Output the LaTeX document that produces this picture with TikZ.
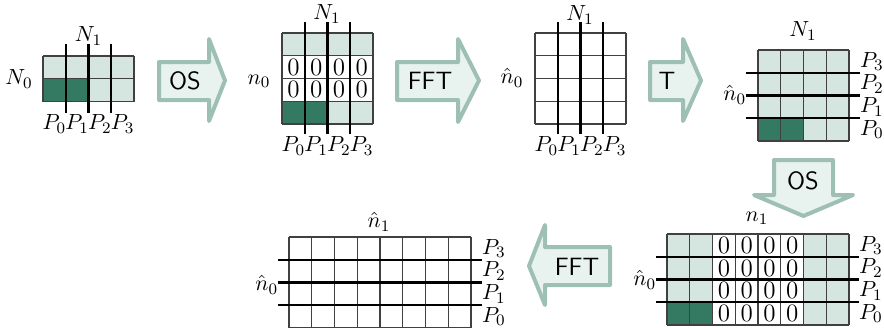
\documentclass[tikz,border=0pt]{standalone}
\definecolor{celllight}{RGB}{213,229,223}
\definecolor{celldark}{RGB}{52,121,98}
\definecolor{arrowfill}{RGB}{232,242,238}
\definecolor{arrowborder}{RGB}{158,192,180}
\newcommand\cellw{22.75}
\newcommand\mygrid[4]{%
  \foreach \i in {0,...,#3} \draw[gridline] ({#1+\i*\cellw},#2) -- ({#1+\i*\cellw},{#2+#4*\cellw});
  \foreach \j in {0,...,#4} \draw[gridline] (#1,{#2+\j*\cellw}) -- ({#1+#3*\cellw},{#2+\j*\cellw});
}
\tikzset{
  gridline/.style={draw=black!75, line width=0.6pt},
  thickline/.style={draw=black, line width=1.1pt},
  blockarrow/.style={draw=arrowborder, fill=arrowfill, line width=2pt, line join=round},
  optext/.style={font=\sffamily\fontsize{12.5}{14}\selectfont, inner sep=0pt},
  zero/.style={font=\fontsize{12.5}{14}\selectfont, inner sep=0pt},
  lbl/.style={inner sep=0.3pt, font=\fontsize{11}{13}\selectfont},
}
\begin{document}
\begin{tikzpicture}[x=0.5pt,y=-0.5pt]
\useasboundingbox (0,0) rectangle (884,327);

% ---------- Grid 1 ----------
\fill[celllight] (43,56) rectangle ({43+4*\cellw},{56+2*\cellw});
\fill[celldark] (43,{56+\cellw}) rectangle ({43+2*\cellw},{56+2*\cellw});
\mygrid{43}{56}{4}{2}
\foreach \k in {1,2,3} \draw[thickline] ({43+\k*\cellw},44) -- ({43+\k*\cellw},113);
\node[lbl] (g1N1) at (88.5,36) {$N_1$};
\node[lbl] (g1N0) at (19,79) {$N_0$};
\foreach \k in {0,...,3} \node[lbl] (g1P\k) at ({43+(\k+0.5)*\cellw},124) {$P_\k$};

% ---------- Arrow OS ----------
\draw[blockarrow] (159,62) -- (209,62) -- (209,39) -- (225,80.5) -- (209,121) -- (209,100) -- (159,100) -- cycle;
\node[optext] (os1) at (185,81) {OS};

% ---------- Grid 2 ----------
\fill[celllight] (282,33) rectangle ({282+4*\cellw},{33+\cellw});
\fill[celllight] ({282+2*\cellw},{33+3*\cellw}) rectangle ({282+4*\cellw},{33+4*\cellw});
\fill[celldark] (282,{33+3*\cellw}) rectangle ({282+2*\cellw},{33+4*\cellw});
\mygrid{282}{33}{4}{4}
\foreach \j in {1,2} \foreach \i in {0,...,3}
  \node[zero] (z2-\i-\j) at ({282+(\i+0.5)*\cellw},{33+(\j+0.5)*\cellw}) {0};
\foreach \k in {1,2,3} \draw[thickline] ({282+\k*\cellw},22) -- ({282+\k*\cellw},134);
\node[lbl] (g2N1) at (327,14) {$N_1$};
\node[lbl] (g2n0) at (259,81) {$n_0$};
\foreach \k in {0,...,3} \node[lbl] (g2P\k) at ({282+(\k+0.5)*\cellw},146) {$P_\k$};

% ---------- Arrow FFT ----------
\draw[blockarrow] (397,62) -- (458,62) -- (458,39) -- (479,80.5) -- (458,122) -- (458,100) -- (397,100) -- cycle;
\node[optext] (fft1) at (430,81) {FFT};

% ---------- Grid 3 ----------
\mygrid{535}{33}{4}{4}
\foreach \k in {1,2,3} \draw[thickline] ({535+\k*\cellw},22) -- ({535+\k*\cellw},134);
\node[lbl] (g3N1) at (580,15) {$N_1$};
\node[lbl] (g3n0) at (512,78) {$\hat{n}_0$};
\foreach \k in {0,...,3} \node[lbl] (g3P\k) at ({535+(\k+0.5)*\cellw},146) {$P_\k$};

% ---------- Arrow T ----------
\draw[blockarrow] (650,62) -- (683,62) -- (683,39) -- (701,80.5) -- (683,121) -- (683,100) -- (650,100) -- cycle;
\node[optext] (t1) at (667,81) {T};

% ---------- Grid 4 ----------
\fill[celllight] (758,50) rectangle ({758+4*\cellw},{50+4*\cellw});
\fill[celldark] (758,{50+3*\cellw}) rectangle ({758+2*\cellw},{50+4*\cellw});
\mygrid{758}{50}{4}{4}
\foreach \k in {1,2,3} \draw[thickline] (746,{50+\k*\cellw}) -- (860,{50+\k*\cellw});
\node[lbl] (g4N1) at (803,31) {$N_1$};
\node[lbl,anchor=east] (g4n0) at (747,95) {$\hat{n}_0$};
\foreach \k in {0,...,3} \node[lbl,anchor=west] (g4P\k) at (859,{50+(3.5-\k)*\cellw}) {$P_\k$};

% ---------- Arrow OS (down) ----------
\draw[blockarrow] (774,160) -- (774,195) -- (754,195) -- (803.5,216) -- (853,195) -- (833,195) -- (833,160) -- cycle;
\node[optext] (os2) at (803,181) {OS};

% ---------- Grid 5 ----------
\fill[celllight] (667,234) rectangle ({667+2*\cellw},{234+4*\cellw});
\fill[celllight] ({667+6*\cellw},234) rectangle ({667+8*\cellw},{234+4*\cellw});
\fill[celldark] (667,{234+3*\cellw}) rectangle ({667+2*\cellw},{234+4*\cellw});
\mygrid{667}{234}{8}{4}
\foreach \j in {0,...,3} \foreach \i in {2,...,5}
  \node[zero] (z5-\i-\j) at ({667+(\i+0.5)*\cellw},{234+(\j+0.5)*\cellw}) {0};
\foreach \k in {1,2,3} \draw[thickline] (656,{234+\k*\cellw}) -- (859,{234+\k*\cellw});
\node[lbl] (g5n1) at (757,218) {$n_1$};
\node[lbl,anchor=east] (g5n0) at (657,280) {$\hat{n}_0$};
\foreach \k in {0,...,3} \node[lbl,anchor=west] (g5P\k) at (858,{234+(3.5-\k)*\cellw}) {$P_\k$};

% ---------- Arrow FFT (left) ----------
\draw[blockarrow] (610,247) -- (545,247) -- (545,225) -- (529,266) -- (545,305) -- (545,285) -- (610,285) -- cycle;
\node[optext] (fft2) at (577,267) {FFT};

% ---------- Grid 6 ----------
\mygrid{289}{237}{8}{4}
\foreach \k in {1,2,3} \draw[thickline] (278,{237+\k*\cellw}) -- (482,{237+\k*\cellw});
\node[lbl] (g6n1) at (379,222) {$\hat{n}_1$};
\node[lbl,anchor=east] (g6n0) at (279,285) {$\hat{n}_0$};
\foreach \k in {0,...,3} \node[lbl,anchor=west] (g6P\k) at (481,{237+(3.5-\k)*\cellw}) {$P_\k$};
\end{tikzpicture}
\end{document}
